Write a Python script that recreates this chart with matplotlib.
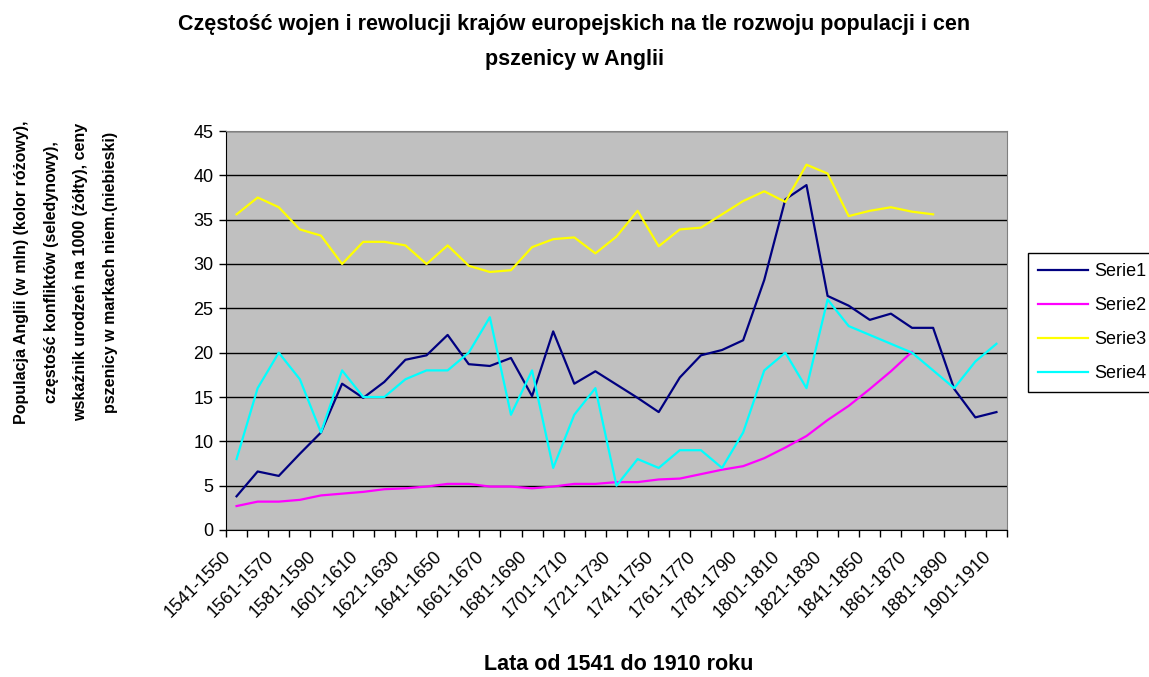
import numpy as np
import matplotlib
matplotlib.use("Agg")
import matplotlib.pyplot as plt
from matplotlib.transforms import ScaledTranslation

plt.rcParams['font.family'] = ['Liberation Sans', 'DejaVu Sans']

# decades 1541-1550 ... 1901-1910
periods = ["%d-%d" % (y, y + 9) for y in range(1541, 1902, 10)]

# Serie1 - ceny pszenicy (niebieski)
serie1 = [3.8, 6.6, 6.1, 8.6, 11.0, 16.5, 14.9, 16.7, 19.2, 19.7,
          22.0, 18.7, 18.5, 19.4, 15.1, 22.4, 16.5, 17.9, 16.4, 14.9,
          13.3, 17.2, 19.7, 20.3, 21.4, 28.2, 37.3, 38.9, 26.4, 25.3,
          23.7, 24.4, 22.8, 22.8, 15.9, 12.7, 13.3]
# Serie2 - populacja Anglii (rozowy)
serie2 = [2.7, 3.2, 3.2, 3.4, 3.9, 4.1, 4.3, 4.6, 4.7, 4.9,
          5.2, 5.2, 4.9, 4.9, 4.7, 4.9, 5.2, 5.2, 5.4, 5.4,
          5.7, 5.8, 6.3, 6.8, 7.2, 8.1, 9.3, 10.6, 12.4, 14.0,
          15.9, 17.9, 20.1, np.nan, np.nan, np.nan, np.nan]
# Serie3 - wskaznik urodzen (zolty)
serie3 = [35.6, 37.5, 36.4, 33.9, 33.2, 30.0, 32.5, 32.5, 32.1, 30.0,
          32.1, 29.8, 29.1, 29.3, 31.9, 32.8, 33.0, 31.2, 33.1, 36.0,
          32.0, 33.9, 34.1, 35.6, 37.1, 38.2, 37.0, 41.2, 40.2, 35.4,
          36.0, 36.4, 35.9, 35.6, np.nan, np.nan, np.nan]
# Serie4 - czestosc konfliktow (seledynowy)
serie4 = [8, 16, 20, 17, 11, 18, 15, 15, 17, 18,
          18, 20, 24, 13, 18, 7, 13, 16, 5, 8,
          7, 9, 9, 7, 11, 18, 20, 16, 26, 23,
          22, 21, 20, 18, 16, 19, 21]

series = [("Serie1", serie1, "#000080"),
          ("Serie2", serie2, "#FF00FF"),
          ("Serie3", serie3, "#FFFF00"),
          ("Serie4", serie4, "#00FFFF")]

fig = plt.figure(figsize=(11.49, 6.77), dpi=100)
ax = fig.add_axes([226 / 1149, 1 - 530 / 677, 781 / 1149, 399 / 677])
ax.set_facecolor("#C0C0C0")

x = np.arange(len(periods))
lines = []
for name, vals, col in series:
    ln, = ax.plot(x, vals, color=col, lw=1.6, label=name)
    lines.append(ln)

ax.set_xlim(-0.5, len(periods) - 0.5)
ax.set_ylim(0, 45)
ax.set_yticks(range(0, 46, 5))
ax.yaxis.grid(True, color="black", lw=1)
ax.set_axisbelow(True)
ax.tick_params(axis="y", direction="out", length=5, width=1, labelsize=13, pad=4)

ax.set_xticks(x[::2])
ax.set_xticklabels(periods[::2], rotation=45, ha="right", va="top",
                   rotation_mode="anchor", fontsize=13)
ax.set_xticks(np.arange(-0.5, len(periods), 1), minor=True)
ax.tick_params(axis="x", which="major", length=0, pad=13)
ax.tick_params(axis="x", which="minor", direction="out", length=5, width=1)
shift = ScaledTranslation(-0.14, 0, fig.dpi_scale_trans)
for lab in ax.get_xticklabels():
    lab.set_transform(lab.get_transform() + shift)

for s in ["top", "right"]:
    ax.spines[s].set_color("#808080")
for s in ["left", "bottom"]:
    ax.spines[s].set_color("black")

fig.text(0.5, 1 - 42 / 677,
         "Częstość wojen i rewolucji krajów europejskich na tle rozwoju populacji i cen\n"
         "pszenicy w Anglii",
         ha="center", va="center", fontsize=15.5, fontweight="bold", linespacing=1.9)

fig.text(66 / 1149, 1 - 272 / 677,
         "Populacja Anglii (w mln) (kolor różowy),\n"
         "częstość konfliktów (seledynowy),\n"
         "wskaźnik urodzeń na 1000 (żółty), ceny\n"
         "pszenicy w markach niem.(niebieski)",
         rotation=90, ha="center", va="center", multialignment="center",
         fontsize=11.5, fontweight="bold", linespacing=2.2)

fig.text(619 / 1149, 1 - 665 / 677, "Lata od 1541 do 1910 roku",
         ha="center", va="center", fontsize=15.5, fontweight="bold")

leg = fig.legend(handles=lines, loc="upper left",
                 bbox_to_anchor=(1028 / 1149, 1 - 253 / 677),
                 fontsize=13, frameon=True, fancybox=False, framealpha=1,
                 edgecolor="black", handlelength=2.8, handletextpad=0.3,
                 labelspacing=0.95, borderpad=0.55, borderaxespad=0)
leg.get_frame().set_linewidth(1)

fig.savefig("out.png", dpi=100)
